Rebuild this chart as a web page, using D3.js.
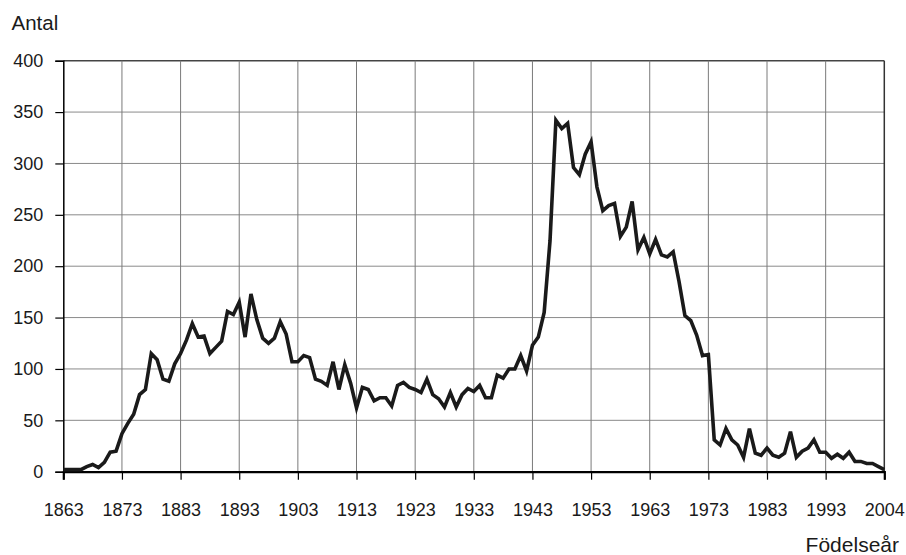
<!DOCTYPE html>
<html>
<head>
<meta charset="utf-8">
<script src="https://cdn.jsdelivr.net/npm/d3@7"></script>
<style>
  body { margin: 0; background: #fff; }
  text { font-family: "Liberation Sans", Arial, sans-serif; fill: #1a1a1a; }
</style>
</head>
<body>
<div id="chart"></div>
<script>
// category labels shown on the x axis (every 10th category)
const tickIndex = [0, 10, 20, 30, 40, 50, 60, 70, 80, 90, 100, 110, 120, 130, 140];
const tickLabels = ["1863", "1873", "1883", "1893", "1903", "1913", "1923", "1933",
                    "1943", "1953", "1963", "1973", "1983", "1993", "2004"];
const yTicks = [0, 50, 100, 150, 200, 250, 300, 350, 400];

// antal per födelseår, one value per category
const antal = [
  2, 2, 2, 2, 5, 7, 4, 9, 19, 20,
  37, 47, 56, 75, 80, 115, 109, 90, 88, 105,
  115, 128, 144, 131, 132, 115, 121, 127, 156, 153,
  165, 131, 173, 148, 130, 125, 130, 146, 134, 107,
  107, 113, 111, 90, 88, 84, 107, 80, 104, 86,
  62, 82, 80, 69, 72, 72, 64, 84, 87, 82,
  80, 77, 90, 75, 71, 63, 77, 63, 75, 81,
  78, 84, 72, 72, 94, 91, 100, 100, 113, 98,
  123, 131, 155, 225, 342, 334, 339, 296, 289, 309,
  321, 277, 254, 259, 261, 229, 238, 263, 216, 228,
  212, 226, 211, 209, 214, 185, 152, 147, 133, 113,
  114, 31, 26, 42, 31, 26, 14, 42, 18, 16,
  23, 16, 14, 18, 39, 14, 20, 23, 31, 19,
  19, 13, 17, 13, 19, 10, 10, 8, 8, 5,
  2
];

const W = 906, H = 555;
const plot = {left: 63.3, right: 884.3, top: 60.7, bottom: 471.7};

const svg = d3.select('#chart').append('svg').attr('width', W).attr('height', H);

const x = d3.scaleLinear().domain([0, antal.length - 1]).range([plot.left, plot.right]);
const y = d3.scaleLinear().domain([0, 400]).range([plot.bottom, plot.top]);

// grid
svg.append('g').selectAll('line.h')
    .data(yTicks.filter(d => d > 0))
    .enter().append('line')
    .attr('x1', plot.left).attr('x2', plot.right)
    .attr('y1', d => y(d)).attr('y2', d => y(d))
    .attr('stroke', d => d === 400 ? '#444' : '#8a8a8a')
    .attr('stroke-width', d => d === 400 ? 1.5 : 1);

svg.append('g').selectAll('line.v')
    .data(tickIndex.slice(1))
    .enter().append('line')
    .attr('x1', d => x(d)).attr('x2', d => x(d))
    .attr('y1', plot.top).attr('y2', plot.bottom)
    .attr('stroke', d => d === 140 ? '#333' : '#7a7a7a')
    .attr('stroke-width', d => d === 140 ? 1.5 : 1);

// axes
const yAxis = svg.append('g')
    .attr('transform', `translate(${plot.left}, 0)`)
    .call(d3.axisLeft(y).tickValues(yTicks).tickSize(8).tickPadding(12));

const xAxis = svg.append('g')
    .attr('transform', `translate(0, ${plot.bottom})`)
    .call(d3.axisBottom(x).tickValues(tickIndex)
        .tickFormat((d, i) => tickLabels[i]).tickSize(8).tickPadding(24));

[yAxis, xAxis].forEach(a => {
    a.select('.domain').attr('stroke', '#000').attr('stroke-width', 1.5);
    a.selectAll('.tick line').attr('stroke', '#000').attr('stroke-width', 1.2);
    a.selectAll('.tick text').style('font-size', '18px')
        .style('font-family', '"Liberation Sans", Arial, sans-serif').attr('fill', '#1a1a1a');
});
xAxis.select('.domain').attr('stroke-width', 2.2);

// data line
svg.append('path')
    .datum(antal)
    .attr('fill', 'none')
    .attr('stroke', '#1a1a1a')
    .attr('stroke-width', 3.6)
    .attr('stroke-linejoin', 'miter')
    .attr('d', d3.line()
        .x((d, i) => x(i))
        .y(d => y(d)));

// axis titles
svg.append('text')
    .attr('x', 11.5).attr('y', 29.5)
    .style('font-size', '20.5px')
    .text('Antal');

svg.append('text')
    .attr('x', 899).attr('y', 551.5)
    .attr('text-anchor', 'end')
    .style('font-size', '21px')
    .text('Födelseår');
</script>
</body>
</html>
